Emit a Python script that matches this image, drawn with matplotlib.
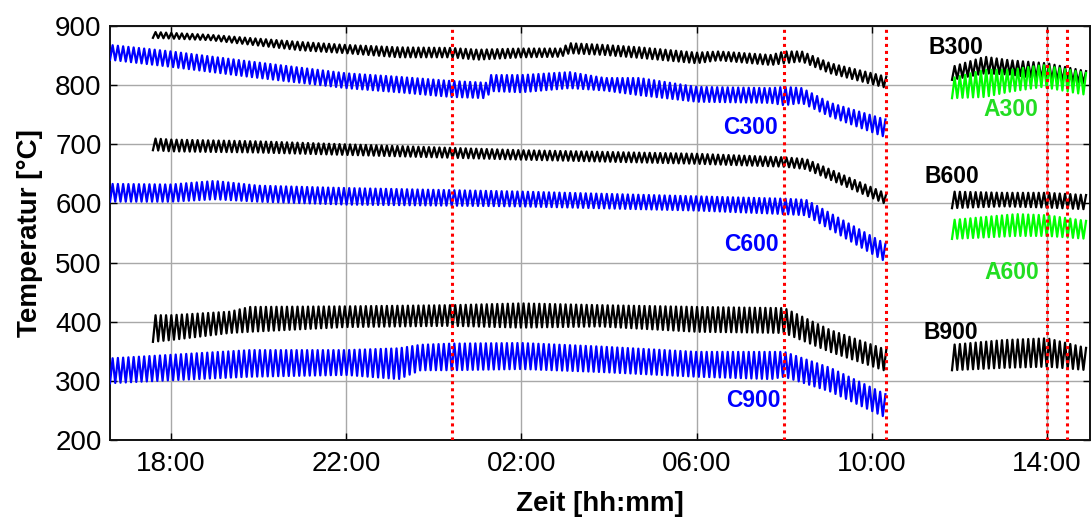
import numpy as np
import matplotlib
matplotlib.use("Agg")
import matplotlib.pyplot as plt

plt.rcParams['font.family'] = ['Liberation Sans', 'DejaVu Sans']

# Time is given in hours after midnight of the first measuring day
tick_hours = [18, 22, 26, 30, 34, 38]
tick_labels = ['18:00', '22:00', '02:00', '06:00', '10:00', '14:00']
y_ticks = [200, 300, 400, 500, 600, 700, 800, 900]
event_hours = [24.42, 32.0, 34.32, 38.0, 38.46]

# burner switching cycle (h)
cycle_hours = 0.12

# Envelope of each thermocouple signal: time, cycle minimum, cycle maximum
B300_t = [17.59, 18.9, 20.95, 22.0, 23.2, 24.4, 25.0, 26.0, 26.9, 27.1, 27.9, 28.7, 30.0, 30.5, 31.7, 32.0, 32.4, 33.05, 34.35]
B300_lo = [880, 876, 859, 854, 847, 847, 843, 847, 848, 854, 851, 846, 837, 842, 834, 837, 840, 820, 795]
B300_hi = [890, 885, 873, 868, 864, 863, 860, 862, 862, 871, 868, 864, 855, 857, 851, 857, 857, 837, 814]

C300_t = [16.61, 18.0, 19.8, 22.0, 23.2, 24.4, 25.2, 25.3, 26.0, 27.1, 27.9, 28.7, 30.0, 31.7, 32.0, 32.4, 33.05, 34.35]
C300_lo = [843, 831, 814, 795, 788, 780, 778, 790, 788, 795, 791, 783, 772, 770, 766, 770, 747, 711]
C300_hi = [868, 857, 840, 820, 814, 807, 804, 817, 817, 822, 812, 812, 797, 795, 797, 795, 770, 741]

B600_t = [17.59, 18.0, 20.0, 22.0, 26.0, 30.0, 32.0, 32.5, 34.35]
B600_lo = [690, 688, 686, 682, 674, 667, 662, 658, 598]
B600_hi = [710, 708, 705, 700, 690, 684, 678, 675, 616]

C600_t = [16.61, 18.0, 19.0, 20.0, 22.0, 26.0, 30.0, 32.0, 32.5, 34.35]
C600_lo = [603, 603, 607, 603, 598, 595, 588, 582, 580, 500]
C600_hi = [633, 632, 638, 630, 626, 620, 612, 608, 606, 530]

B900_t = [17.59, 18.0, 19.35, 19.8, 22.0, 24.4, 26.0, 27.8, 30.0, 32.0, 33.05, 34.35]
B900_lo = [366, 369, 381, 383, 391, 393, 390, 392, 383, 381, 349, 316]
B900_hi = [411, 411, 417, 425, 426, 428, 431, 428, 425, 423, 386, 352]

C900_t = [16.61, 18.0, 19.8, 22.0, 23.2, 23.7, 24.4, 26.0, 27.8, 30.0, 31.7, 32.0, 33.05, 34.35]
C900_lo = [296, 301, 307, 310, 303, 318, 318, 320, 315, 307, 303, 307, 282, 237]
C900_hi = [338, 344, 352, 352, 355, 361, 363, 364, 358, 349, 349, 349, 322, 276]

# second measuring period
B300b_t = [35.83, 36.58, 37.15, 38.0, 38.93]
B300b_lo = [809, 820, 818, 809, 803]
B300b_hi = [831, 848, 842, 837, 823]

A300_t = [35.83, 36.58, 37.15, 37.9, 38.93]
A300_lo = [778, 780, 789, 797, 783]
A300_hi = [812, 826, 826, 834, 820]

B600b_t = [35.83, 37.0, 38.0, 38.93]
B600b_lo = [592, 595, 593, 590]
B600b_hi = [620, 618, 618, 614]

A600_t = [35.83, 37.3, 38.0, 38.93]
A600_lo = [540, 545, 545, 540]
A600_hi = [572, 582, 580, 570]

B900b_t = [35.83, 37.0, 38.0, 38.93]
B900b_lo = [318, 322, 324, 318]
B900b_hi = [361, 369, 372, 355]

labels = ['B300', 'A300', 'C300', 'B600', 'C600', 'A600', 'B900', 'C900']
label_x = [35.92, 37.18, 31.22, 35.83, 31.26, 37.2, 35.8, 31.29]
label_y = [864, 758, 729, 645, 530, 484, 381, 266]

BLACK, BLUE, GREEN = '#000000', '#0000ff', '#00ff00'
label_colors = [BLACK, '#22dd22', BLUE, BLACK, BLUE, '#22dd22', BLACK, BLUE]


def cycle_signal(t, lo, hi, period):
    """Alternate between cycle minima and maxima along the envelope."""
    n = int((t[-1] - t[0]) / (period / 2))
    tt = t[0] + np.arange(n + 1) * period / 2
    lo_i = np.interp(tt, t, lo)
    hi_i = np.interp(tt, t, hi)
    y = np.where(np.arange(n + 1) % 2 == 0, lo_i, hi_i)
    return tt, y


fig = plt.figure(figsize=(10.92, 5.19), dpi=100)
ax = fig.add_axes([110 / 1092, 1 - 440 / 519, 980 / 1092, 414 / 519])

series = [
    (B300_t, B300_lo, B300_hi, BLACK),
    (B600_t, B600_lo, B600_hi, BLACK),
    (B900_t, B900_lo, B900_hi, BLACK),
    (C300_t, C300_lo, C300_hi, BLUE),
    (C600_t, C600_lo, C600_hi, BLUE),
    (C900_t, C900_lo, C900_hi, BLUE),
    (B300b_t, B300b_lo, B300b_hi, BLACK),
    (B600b_t, B600b_lo, B600b_hi, BLACK),
    (B900b_t, B900b_lo, B900b_hi, BLACK),
    (A300_t, A300_lo, A300_hi, GREEN),
    (A600_t, A600_lo, A600_hi, GREEN),
]
for t, lo, hi, col in series:
    tt, yy = cycle_signal(t, lo, hi, cycle_hours)
    ax.plot(tt, yy, color=col, lw=1.6, zorder=3)

for h in event_hours:
    ax.axvline(h, color='#ff0000', lw=2.2, ls=(0, (1, 1.3)), zorder=4)

for txt, x, y, c in zip(labels, label_x, label_y, label_colors):
    ax.text(x, y, txt, color=c, fontsize=16.5, fontweight='bold',
            ha='center', va='center', zorder=5)

ax.set_xlim(16.61, 38.98)
ax.set_ylim(200, 900)
ax.set_xticks(tick_hours)
ax.set_xticklabels(tick_labels)
ax.set_yticks(y_ticks)
ax.grid(True, color='#a8a8a8', lw=1.0, zorder=0)
ax.set_axisbelow(True)
ax.tick_params(direction='in', length=5, width=1, top=True, right=True,
               labelsize=20, pad=6)
ax.tick_params(axis='x', pad=8)
for s in ax.spines.values():
    s.set_linewidth(1.4)
    s.set_color('#111111')

ax.set_ylabel('Temperatur [°C]', fontsize=20, fontweight='bold', labelpad=9)
ax.set_xlabel('Zeit [hh:mm]', fontsize=20, fontweight='bold', labelpad=10)

fig.savefig('out.png', dpi=100)
